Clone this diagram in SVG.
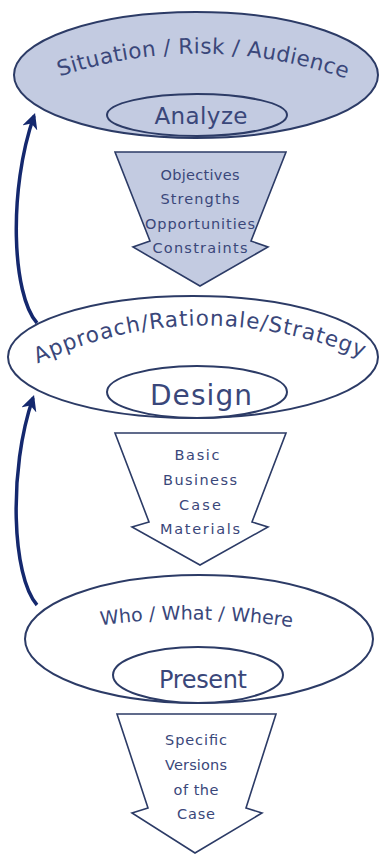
<svg xmlns="http://www.w3.org/2000/svg" width="380" height="854" viewBox="0 0 380 854">
<style>
.el{stroke:#2c3b66;stroke-width:2}
.lt{fill:#c3cbe1}
.wh{fill:#ffffff}
.arr{stroke:#2c3b66;stroke-width:1.6;stroke-linejoin:miter}
.t{font-family:"DejaVu Sans","Liberation Sans",sans-serif;fill:#3a477a;text-anchor:middle}
.s{font-size:14.5px}
.con{fill:none;stroke:#14286e;stroke-width:3.5}
</style>
<defs>
<marker id="ah" viewBox="0 0 10 10" refX="8" refY="5" markerWidth="4.5" markerHeight="4.5" orient="auto" markerUnits="strokeWidth">
<path d="M0,0 L10,5 L0,10 L3,5 z" fill="#14286e"/>
</marker>
<path id="p1" d="M 50 80 Q 200 26 356 82"/>
<path id="p2" d="M 32 366 Q 195 288 368 360"/>
<path id="p3" d="M 95 626 Q 195 612 298 628"/>
</defs>
<rect width="380" height="854" fill="#ffffff"/>
<g id="analyze">
<ellipse class="el lt" cx="196" cy="75" rx="182" ry="63"/>
<ellipse class="el lt" cx="197" cy="115" rx="90" ry="21"/>
<text class="t" font-size="21.5"><textPath href="#p1" startOffset="50%" textLength="292" lengthAdjust="spacing">Situation / Risk / Audience</textPath></text>
<text class="t" x="201" y="124" font-size="23" textLength="93" lengthAdjust="spacing">Analyze</text>
</g>
<g id="arrow1">
<path class="arr lt" d="M115 152 L286 152 L251 241 L268 247 L200 286 L133 247 L150 241 Z"/>
<text class="t s" x="200" y="180" textLength="79" lengthAdjust="spacing">Objectives</text>
<text class="t s" x="200" y="204" textLength="79" lengthAdjust="spacing">Strengths</text>
<text class="t s" x="200" y="229" textLength="110" lengthAdjust="spacing">Opportunities</text>
<text class="t s" x="200" y="253" textLength="95" lengthAdjust="spacing">Constraints</text>
</g>
<g id="design">
<ellipse class="el wh" cx="193" cy="357" rx="185" ry="61"/>
<ellipse class="el wh" cx="197" cy="392" rx="90" ry="26"/>
<text class="t" font-size="21.5"><textPath href="#p2" startOffset="50%" textLength="335" lengthAdjust="spacing">Approach/Rationale/Strategy</textPath></text>
<text class="t" x="201" y="405" font-size="28" textLength="102" lengthAdjust="spacing">Design</text>
</g>
<g id="arrow2">
<path class="arr wh" d="M115 433 L286 433 L252 522 L268 527 L200 565 L132 527 L149 522 Z"/>
<text class="t s" x="197" y="460" textLength="45" lengthAdjust="spacing">Basic</text>
<text class="t s" x="200" y="485" textLength="74" lengthAdjust="spacing">Business</text>
<text class="t s" x="200" y="510" textLength="42" lengthAdjust="spacing">Case</text>
<text class="t s" x="200" y="534" textLength="80" lengthAdjust="spacing">Materials</text>
</g>
<g id="present">
<ellipse class="el wh" cx="199" cy="639" rx="174" ry="64"/>
<ellipse class="el wh" cx="198" cy="675" rx="85" ry="28"/>
<text class="t" font-size="19"><textPath href="#p3" startOffset="50%" textLength="192" lengthAdjust="spacing">Who / What / Where</textPath></text>
<text class="t" x="203" y="688" font-size="24" textLength="88" lengthAdjust="spacing">Present</text>
</g>
<g id="arrow3">
<path class="arr wh" d="M117 714 L276 714 L246 808 L262 813 L195 853 L132 813 L148 808 Z"/>
<text class="t s" x="196" y="745" textLength="62" lengthAdjust="spacing">Specific</text>
<text class="t s" x="196" y="770" textLength="62" lengthAdjust="spacing">Versions</text>
<text class="t s" x="196" y="795" textLength="45" lengthAdjust="spacing">of the</text>
<text class="t s" x="196" y="819" textLength="38" lengthAdjust="spacing">Case</text>
</g>
<g id="connectors">
<path class="con" d="M37 323 C12 295 8 190 34 116" marker-end="url(#ah)"/>
<path class="con" d="M37 605 C12 577 8 470 33 398" marker-end="url(#ah)"/>
</g>
</svg>
